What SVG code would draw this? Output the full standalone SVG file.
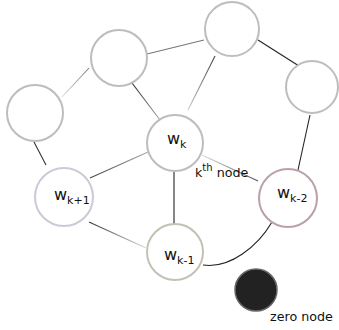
<svg xmlns="http://www.w3.org/2000/svg" width="339" height="330" viewBox="0 0 339 330">
  <style>
    .node { fill: #ffffff; stroke: #bdbdbd; stroke-width: 2; }
    .lbl { font-family: "DejaVu Sans", sans-serif; font-size: 16px; fill: #111; }
    .sub { font-size: 11px; }
    .note { font-family: "DejaVu Sans", sans-serif; font-size: 12.7px; fill: #111; }
    .edge { fill: none; stroke-width: 1.1; }
  </style>
  <defs>
    <linearGradient id="g-top-wk" gradientUnits="userSpaceOnUse" x1="215" y1="56" x2="188" y2="110">
      <stop offset="0" stop-color="#444"/><stop offset="1" stop-color="#ccc"/>
    </linearGradient>
    <linearGradient id="g-ul-left" gradientUnits="userSpaceOnUse" x1="89" y1="68" x2="62" y2="97">
      <stop offset="0" stop-color="#777"/><stop offset="1" stop-color="#ddd"/>
    </linearGradient>
    <linearGradient id="g-ul-wk" gradientUnits="userSpaceOnUse" x1="132" y1="83" x2="160" y2="120">
      <stop offset="0" stop-color="#222"/><stop offset="1" stop-color="#aaa"/>
    </linearGradient>
    <linearGradient id="g-wk-wk1" gradientUnits="userSpaceOnUse" x1="148" y1="152" x2="90" y2="178">
      <stop offset="0" stop-color="#aaa"/><stop offset="1" stop-color="#444"/>
    </linearGradient>
    <linearGradient id="g-wk1-wkm1" gradientUnits="userSpaceOnUse" x1="89" y1="222" x2="146" y2="248">
      <stop offset="0" stop-color="#333"/><stop offset="1" stop-color="#ddd"/>
    </linearGradient>
    <linearGradient id="g-wk-wk2" gradientUnits="userSpaceOnUse" x1="202" y1="155" x2="258" y2="181">
      <stop offset="0" stop-color="#ddd"/><stop offset="1" stop-color="#555"/>
    </linearGradient>
  </defs>

  <g id="connectors">
    <line class="edge" x1="147" y1="54" x2="204" y2="40" stroke="#777"/>
    <line class="edge" x1="258" y1="40" x2="299" y2="66" stroke="#222" stroke-width="1.3"/>
    <line class="edge" x1="215" y1="56" x2="188" y2="110" stroke="url(#g-top-wk)"/>
    <line class="edge" x1="89" y1="68" x2="62" y2="97" stroke="url(#g-ul-left)"/>
    <line class="edge" x1="132" y1="83" x2="160" y2="120" stroke="url(#g-ul-wk)"/>
    <line class="edge" x1="34" y1="142" x2="46" y2="165" stroke="#333"/>
    <line class="edge" x1="148" y1="152" x2="90" y2="178" stroke="url(#g-wk-wk1)"/>
    <line class="edge" x1="174" y1="172" x2="174" y2="224" stroke="#2a2020" stroke-width="1.3"/>
    <line class="edge" x1="202" y1="155" x2="258" y2="181" stroke="url(#g-wk-wk2)"/>
    <line class="edge" x1="89" y1="222" x2="146" y2="248" stroke="url(#g-wk1-wkm1)"/>
    <line class="edge" x1="310" y1="115" x2="298" y2="170" stroke="#2a2020" stroke-width="1.3"/>
    <path class="edge" d="M203 265 C230 269 258 246 272 222" stroke="#222" stroke-width="1.3"/>
  </g>

  <g id="node-top"><circle class="node" cx="232" cy="29" r="27"/></g>
  <g id="node-upper-left"><circle class="node" cx="119" cy="58" r="28"/></g>
  <g id="node-left"><circle class="node" cx="35" cy="113" r="28"/></g>
  <g id="node-right"><circle class="node" cx="312" cy="87" r="26"/></g>

  <g id="node-wk">
    <circle class="node" cx="175" cy="143" r="28"/>
    <text class="lbl" x="167" y="144">w<tspan class="sub" dy="4">k</tspan></text>
  </g>
  <g id="node-wk-plus-1">
    <circle class="node" cx="64" cy="197" r="29" style="stroke:#cacad8"/>
    <text class="lbl" x="54" y="200">w<tspan class="sub" dy="4">k+1</tspan></text>
  </g>
  <g id="node-wk-minus-1">
    <circle class="node" cx="175" cy="252" r="28" style="stroke:#c4c1b4"/>
    <text class="lbl" x="164" y="260">w<tspan class="sub" dy="4">k-1</tspan></text>
  </g>
  <g id="node-wk-minus-2">
    <circle class="node" cx="288" cy="198" r="29" style="stroke:#bba0a6"/>
    <text class="lbl" x="277" y="198">w<tspan class="sub" dy="4">k-2</tspan></text>
  </g>

  <g id="kth-note">
    <text class="note" x="195" y="177">k<tspan font-size="10" dy="-6">th</tspan><tspan dy="6"> node</tspan></text>
  </g>

  <g id="zero-node">
    <circle cx="256" cy="290" r="21" fill="#222" stroke="#666" stroke-width="1.5"/>
    <text class="note" x="270" y="321">zero node</text>
  </g>
</svg>
